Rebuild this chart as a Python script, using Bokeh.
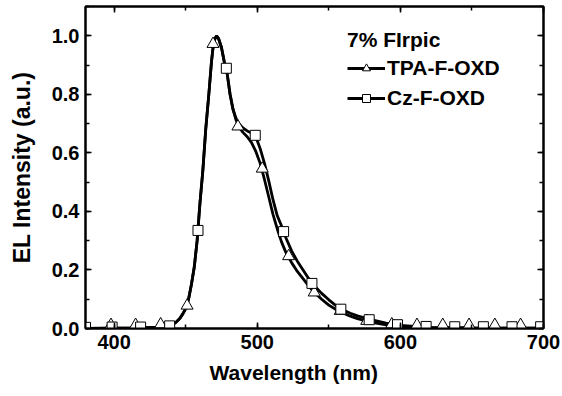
from bokeh.plotting import figure
from bokeh.models import (Range1d, SingleIntervalTicker, LinearAxis, PrintfTickFormatter,
                          Legend, LegendItem, Title, CustomJSTickFormatter)
from bokeh.embed import file_html
from bokeh.resources import INLINE

# ---- data ----
wl_tpa = [380, 400, 420, 430, 436, 440, 443, 446, 448, 450, 452, 454, 456, 458, 460, 462, 464,
          466, 468, 469, 470, 471.5, 473, 475, 477, 479, 481, 483, 485, 487, 490, 493, 496, 499,
          502, 505, 508, 511, 514, 517, 520, 524, 528, 532, 536, 540, 545, 550, 555, 560, 565,
          570, 576, 580, 590, 600, 620, 650, 700]
int_tpa = [0.0, 0.001, 0.002, 0.005, 0.008, 0.012, 0.02, 0.035, 0.05, 0.068, 0.10, 0.15, 0.21,
           0.30, 0.43, 0.54, 0.68, 0.79, 0.91, 0.955, 0.985, 1.0, 0.99, 0.96, 0.91, 0.87, 0.80,
           0.75, 0.715, 0.69, 0.67, 0.655, 0.635, 0.605, 0.565, 0.51, 0.45, 0.39, 0.34, 0.295,
           0.26, 0.225, 0.195, 0.17, 0.145, 0.123, 0.10, 0.08, 0.065, 0.053, 0.042, 0.034, 0.026,
           0.021, 0.012, 0.007, 0.003, 0.002, 0.001]

wl_cz = [380, 400, 420, 430, 436, 440, 443, 446, 448, 450, 452, 454, 456, 458, 460, 462, 464,
         466, 468, 469, 470, 471.5, 473, 475, 477, 479, 481, 483, 485, 487, 490, 493, 496, 499,
         502, 505, 508, 511, 514, 517, 520, 524, 528, 532, 536, 540, 545, 550, 555, 560, 565,
         570, 578, 590, 600, 620, 650, 700]
int_cz = [0.0, 0.001, 0.002, 0.005, 0.008, 0.012, 0.02, 0.035, 0.05, 0.068, 0.10, 0.15, 0.21,
          0.30, 0.43, 0.54, 0.68, 0.79, 0.91, 0.955, 0.985, 1.0, 0.99, 0.96, 0.91, 0.87, 0.80,
          0.75, 0.72, 0.70, 0.685, 0.675, 0.668, 0.655, 0.615, 0.565, 0.505, 0.44, 0.385, 0.35,
          0.31, 0.265, 0.23, 0.20, 0.17, 0.145, 0.12, 0.098, 0.078, 0.063, 0.052, 0.043, 0.032,
          0.018, 0.011, 0.004, 0.002, 0.001]

wl_tri = [397.8, 415.0, 432.5, 451.0, 469.1, 486.5, 503.5, 521.9, 539.8, 558.0, 576.5, 594.0,
          611.6, 629.6, 648.0, 666.0, 684.0]
int_tri = [0.012, 0.012, 0.014, 0.078, 0.972, 0.69, 0.546, 0.247, 0.123, 0.06, 0.026, 0.014,
           0.012, 0.012, 0.012, 0.012, 0.012]

wl_sq = [380, 398.6, 418.5, 438.8, 458.6, 478.4, 498.6, 518.4, 538.2, 558.4, 578.2, 598.0,
         618.0, 638.0, 658.0, 678.0, 698.0]
int_sq = [0.004, 0.005, 0.005, 0.009, 0.335, 0.889, 0.66, 0.331, 0.154, 0.066, 0.03, 0.013,
          0.007, 0.006, 0.006, 0.006, 0.006]

x_ticks = [400, 500, 600, 700]
y_ticks = [0.0, 0.2, 0.4, 0.6, 0.8, 1.0]
legend_title = "7% FIrpic"
names = ["TPA-F-OXD", "Cz-F-OXD"]

FONT = "Liberation Sans"

p = figure(width=562, height=396, output_backend="svg", toolbar_location=None,
           x_range=Range1d(380, 700), y_range=Range1d(0, 1.1),
           min_border_left=85, min_border_right=19, min_border_top=6, min_border_bottom=68,
           x_axis_location=None, y_axis_location=None)
p.grid.visible = False
p.outline_line_color = "black"
p.outline_line_width = 2
p.background_fill_color = "white"
p.border_fill_color = "white"

blank = CustomJSTickFormatter(code="return '';")


def style_axis(ax, labels=True):
    ax.axis_line_width = 2
    ax.axis_line_color = "black"
    ax.major_tick_in = 6
    ax.major_tick_out = 0
    ax.minor_tick_in = 4
    ax.minor_tick_out = 0
    ax.major_tick_line_width = 1.5
    ax.minor_tick_line_width = 1.5
    ax.major_tick_line_color = "black"
    ax.minor_tick_line_color = "black"
    if labels:
        ax.major_label_text_font = FONT
        ax.major_label_text_font_style = "bold"
        ax.major_label_text_font_size = "20px"
        ax.major_label_text_color = "black"
        ax.major_label_standoff = 6
    else:
        ax.formatter = blank
        ax.major_label_standoff = 0


xt = SingleIntervalTicker(interval=100, num_minor_ticks=2)
yt = SingleIntervalTicker(interval=0.2, num_minor_ticks=2)

xb = LinearAxis(ticker=xt)
style_axis(xb)
p.add_layout(xb, "below")
xa = LinearAxis(ticker=xt)
style_axis(xa, labels=False)
p.add_layout(xa, "above")

yl = LinearAxis(ticker=yt, formatter=PrintfTickFormatter(format="%.1f"))
style_axis(yl)
yl.axis_label = "EL Intensity (a.u.)"
yl.axis_label_text_font = FONT
yl.axis_label_text_font_style = "bold"
yl.axis_label_text_font_size = "23px"
yl.axis_label_text_color = "black"
yl.axis_label_standoff = 14
p.add_layout(yl, "left")
yr = LinearAxis(ticker=yt)
style_axis(yr, labels=False)
p.add_layout(yr, "right")

xtitle = Title(text="Wavelength (nm)", align="left", offset=124,
               text_font=FONT, text_font_style="bold", text_font_size="21px",
               text_color="black", standoff=15)
p.add_layout(xtitle, "below")

l1 = p.line(wl_tpa, int_tpa, line_color="black", line_width=2.8)
l2 = p.line(wl_cz, int_cz, line_color="black", line_width=2.8)
m1 = p.scatter(wl_tri, int_tri, marker="triangle", size=12, fill_color="white",
               line_color="black", line_width=1)
m2 = p.scatter(wl_sq, int_sq, marker="square", size=10, fill_color="white",
               line_color="black", line_width=1)

leg = Legend(items=[LegendItem(label=names[0], renderers=[l1, m1]),
                    LegendItem(label=names[1], renderers=[l2, m2])],
             location=(262, 218), title=legend_title,
             title_text_font=FONT, title_text_font_style="bold", title_text_font_size="21px",
             title_text_color="black",
             label_text_font=FONT, label_text_font_style="bold", label_text_font_size="21px",
             label_text_color="black",
             glyph_width=38, glyph_height=20, label_standoff=2, spacing=6,
             title_standoff=4, padding=0, margin=0,
             background_fill_alpha=0, border_line_color=None)
p.add_layout(leg, "center")

open("out.html", "w").write(file_html(p, INLINE))
